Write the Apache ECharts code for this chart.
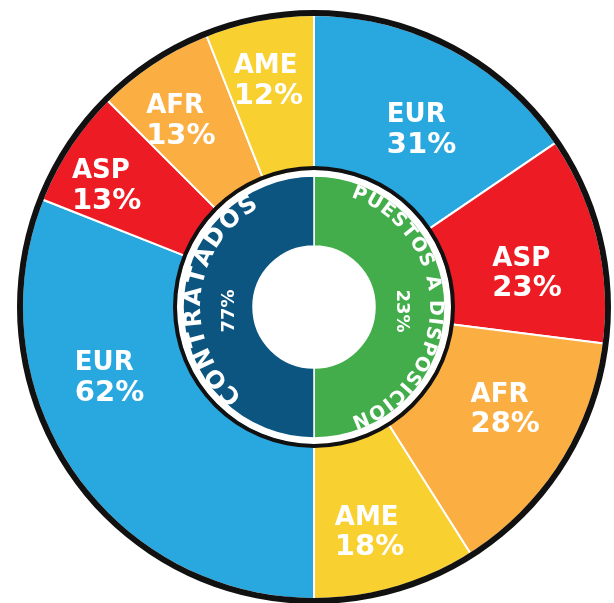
<!DOCTYPE html>
<html lang="es" style="height: 100%">

<head>
  <meta charset="utf-8">
</head>

<body style="height: 100%; margin: 0; background: #fff">
  <div id="container" style="height: 100%"></div>

  <script type="text/javascript" src="https://cdn.jsdelivr.net/npm/echarts@6/dist/echarts.min.js"></script>

  <script type="text/javascript">
    // datos del grafico
    var regions = ['EUR', 'ASP', 'AFR', 'AME'];
    var puestos = [31, 23, 28, 18];       // puestos a disposicion (mitad derecha)
    var contratados = [62, 13, 13, 12];   // contratados (mitad izquierda)
    var groups = ['PUESTOS A DISPOSICION', 'CONTRATADOS'];
    var groupShares = [23, 77];

    var regionColors = ['#29a8e0', '#ed1c24', '#fbae42', '#f8d030'];
    var groupColors = ['#43ad4b', '#0c5581'];

    // pequeños ajustes de las etiquetas respecto al centro del sector (px)
    var labelNudge = [[6, 16], [2, 18], [8, -13], [-5, 18], [-25, -50], [-26, -1], [-14, -4], [-5, -12]];

    var CX = 314, CY = 307;
    var FONT = '"DejaVu Sans", sans-serif';

    var dom = document.getElementById('container');
    var myChart = echarts.init(dom, null, { renderer: 'canvas' });

    function sum(arr) {
      return arr.reduce(function (a, b) { return a + b; }, 0);
    }

    // anillo exterior: derecha (puestos) y luego izquierda (contratados), en sentido horario
    var outerData = [];
    [puestos, contratados].forEach(function (vals) {
      vals.forEach(function (v, i) {
        outerData.push({ name: regions[i], value: v, itemStyle: { color: regionColors[i] } });
      });
    });

    var innerData = [
      { name: groups[0], value: sum(puestos), itemStyle: { color: groupColors[0] } },
      { name: groups[1], value: sum(contratados), itemStyle: { color: groupColors[1] } }
    ];

    // texto curvo, letra por letra
    var ctx = document.createElement('canvas').getContext('2d');
    function arcText(text, r, centerDeg, size, spacing) {
      var font = 'bold ' + size + 'px ' + FONT;
      ctx.font = font;
      var chars = text.split('');
      var widths = chars.map(function (ch) { return ctx.measureText(ch).width; });
      var total = sum(widths) + spacing * (chars.length - 1);
      var a = centerDeg * Math.PI / 180 - total / 2 / r;
      return chars.map(function (ch, i) {
        var mid = a + widths[i] / 2 / r;
        a += (widths[i] + spacing) / r;
        return {
          type: 'text',
          x: CX + r * Math.sin(mid),
          y: CY - r * Math.cos(mid),
          rotation: -mid,
          silent: true,
          z: 100,
          style: { text: ch, fill: '#fff', font: font, align: 'center', verticalAlign: 'middle' }
        };
      });
    }

    var graphics = []
      .concat(arcText(groups[1], 120, 275, 24, 3))
      .concat(arcText(groups[0], 121, 90, 19, 1.7))
      .concat([
        {
          type: 'text', x: CX - 85, y: CY + 4, rotation: Math.PI / 2, silent: true, z: 100,
          style: { text: groupShares[1] + '%', fill: '#fff', font: 'bold 18px ' + FONT, align: 'center', verticalAlign: 'middle' }
        },
        {
          type: 'text', x: CX + 88, y: CY + 4, rotation: -Math.PI / 2, silent: true, z: 100,
          style: { text: groupShares[0] + '%', fill: '#fff', font: 'bold 18px ' + FONT, align: 'center', verticalAlign: 'middle' }
        }
      ]);

    var option = {
      animation: false,
      backgroundColor: '#fff',
      graphic: graphics,
      series: [
        {
          name: 'regiones',
          type: 'pie',
          center: [CX, CY],
          radius: [136, 292],
          startAngle: 90,
          clockwise: true,
          silent: true,
          itemStyle: { borderColor: '#fff', borderWidth: 2 },
          label: {
            show: true,
            position: 'inside',
            rotate: 0,
            formatter: '{n|{b}}\n{p|{c}%}',
            rich: {
              n: { color: '#fff', fontFamily: FONT, fontWeight: 'bold', fontSize: 26, lineHeight: 29, align: 'left' },
              p: { color: '#fff', fontFamily: FONT, fontWeight: 'bold', fontSize: 29, lineHeight: 31, align: 'left' }
            }
          },
          labelLine: { show: false },
          labelLayout: function (params) {
            var n = labelNudge[params.dataIndex];
            return { dx: n[0], dy: n[1] };
          },
          data: outerData
        },
        {
          name: 'borde',
          type: 'pie',
          center: [CX, CY],
          radius: [291, 297],
          silent: true,
          label: { show: false },
          itemStyle: { color: '#111' },
          data: [{ value: 1 }]
        },
        {
          name: 'aro blanco',
          type: 'pie',
          center: [CX, CY],
          radius: [130, 137],
          silent: true,
          label: { show: false },
          itemStyle: { color: '#fff' },
          data: [{ value: 1 }]
        },
        {
          name: 'aro negro',
          type: 'pie',
          center: [CX, CY],
          radius: [137, 141],
          silent: true,
          label: { show: false },
          itemStyle: { color: '#111' },
          data: [{ value: 1 }]
        },
        {
          name: 'grupos',
          type: 'pie',
          center: [CX, CY],
          radius: [61, 131],
          startAngle: 90,
          clockwise: true,
          silent: true,
          label: { show: false },
          itemStyle: { borderColor: '#fff', borderWidth: 1.5 },
          data: innerData
        }
      ]
    };

    myChart.setOption(option);

    window.addEventListener('resize', myChart.resize);
  </script>
</body>

</html>
